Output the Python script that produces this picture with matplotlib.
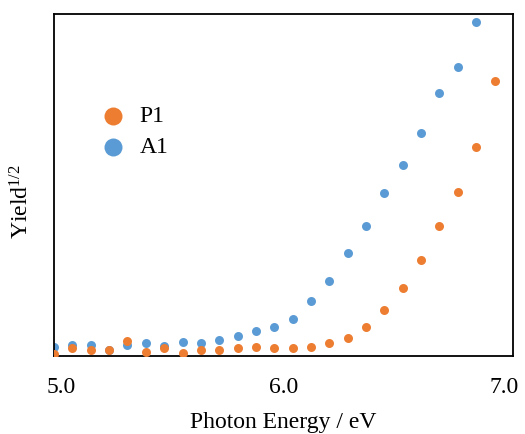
import matplotlib
matplotlib.use("Agg")
import matplotlib.pyplot as plt
from matplotlib.transforms import ScaledTranslation

# photon energies (eV), 0.08 eV steps
energy_a1 = [5.00, 5.08, 5.16, 5.24, 5.32, 5.40, 5.48, 5.56, 5.64, 5.72, 5.80, 5.88,
             5.96, 6.04, 6.12, 6.20, 6.28, 6.36, 6.44, 6.52, 6.60, 6.68, 6.76, 6.84]
energy_p1 = energy_a1 + [6.92]

# yield^(1/2), arbitrary units
yield_a1 = [0.90, 1.10, 1.10, 0.60, 1.10, 1.27, 1.03, 1.40, 1.30, 1.60, 2.00, 2.50,
            2.87, 3.75, 5.55, 7.50, 10.27, 13.00, 16.27, 19.10, 22.27, 26.27, 28.93, 33.40]
yield_p1 = [0.23, 0.80, 0.60, 0.60, 1.55, 0.37, 0.77, 0.33, 0.65, 0.65, 0.80, 0.93,
            0.85, 0.83, 0.90, 1.27, 1.77, 2.93, 4.60, 6.80, 9.60, 13.00, 16.37, 20.93, 27.53]

ORANGE = "#ED7D31"
BLUE = "#5B9BD5"
FS = 17

plt.rcParams.update({
    "font.family": ["Liberation Serif", "DejaVu Serif"],
    "mathtext.fontset": "custom",
    "mathtext.rm": "Liberation Serif",
    "mathtext.it": "Liberation Serif:italic",
    "font.size": FS,
})

fig = plt.figure(figsize=(5.25, 4.34), dpi=100)
ax = fig.add_axes([0.1029, 0.1797, 0.874, 0.788])

ax.scatter(energy_a1, yield_a1, s=42, color=BLUE, linewidths=0, label="A1", zorder=2)
ax.scatter(energy_p1, yield_p1, s=42, color=ORANGE, linewidths=0, label="P1", zorder=3)

ax.set_xlim(5.0, 7.0)
ax.set_ylim(0, 34.2)
ax.set_xticks([5.0, 6.0, 7.0])
ax.set_xticklabels(["5.0", "6.0", "7.0"])
ax.set_yticks([])
ax.tick_params(axis="x", length=0, pad=15, labelsize=FS)

# the original labels sit a little inside the ends of the axis
shifts = [5, 0, -6]
for lab, dx in zip(ax.get_xticklabels(), shifts):
    lab.set_transform(lab.get_transform() + ScaledTranslation(dx / 72, 0, fig.dpi_scale_trans))

for sp in ax.spines.values():
    sp.set_linewidth(1.3)
    sp.set_color("black")

ax.set_xlabel("Photon Energy / eV", fontsize=FS, labelpad=10.5)
ax.set_ylabel(r"Yield$^{1/2}$", fontsize=FS)
ax.yaxis.set_label_coords(-0.045, 0.453)

handles, labels = ax.get_legend_handles_labels()
leg = ax.legend(handles[::-1], labels[::-1], loc="upper left",
                bbox_to_anchor=(0.03, 0.795), frameon=False, fontsize=FS,
                markerscale=2.0, handletextpad=0.15, labelspacing=0.42)

fig.savefig("out.png", dpi=100)
